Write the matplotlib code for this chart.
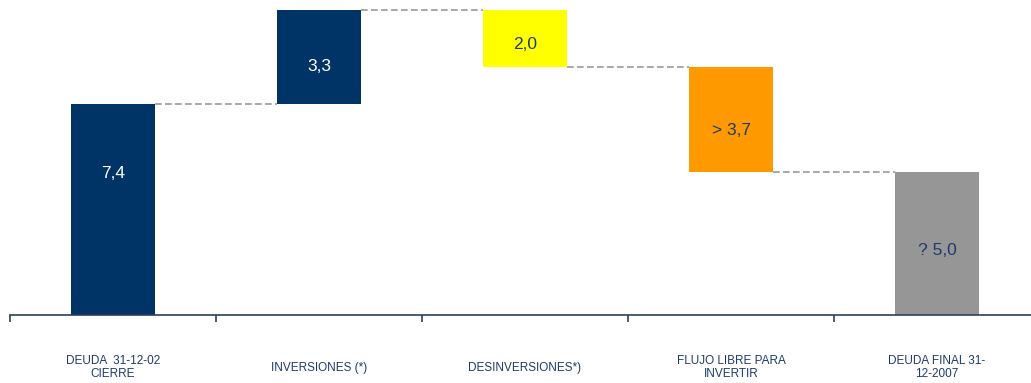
import numpy as np
import matplotlib.pyplot as plt

# data
categories = ["DEUDA  31-12-02\nCIERRE", "INVERSIONES (*)", "DESINVERSIONES*)",
              "FLUJO LIBRE PARA\nINVERTIR", "DEUDA FINAL 31-\n12-2007"]
changes = [7.4, 3.3, -2.0, -3.7, 5.0]
value_labels = ["7,4", "3,3", "2,0", "> 3,7", "? 5,0"]
colors = ["#003366", "#003366", "#FFFF00", "#FF9900", "#969696"]
text_colors = ["white", "white", "#1F3A6E", "#1F3A6E", "#1F3A6E"]
# label shift from bar centre, in points (as in the original slide)
label_shift = [26, -6.5, -4.5, -8, -5]

# waterfall bottoms / tops
bottoms, tops = [], []
level = 0.0
for i, c in enumerate(changes):
    if i == len(changes) - 1:
        b, t = 0.0, c
    else:
        b, t = min(level, level + c), max(level, level + c)
        level += c
    bottoms.append(b)
    tops.append(t)

plt.rcParams['font.family'] = ['Liberation Sans', 'DejaVu Sans']

fig = plt.figure(figsize=(10.31, 3.83), dpi=100)
ax = fig.add_axes([10 / 1031, 68 / 383, 1030 / 1031, 315 / 383])

x = np.arange(len(categories))
w = 0.41
heights = np.array(tops) - np.array(bottoms)
ax.bar(x, heights, bottom=bottoms, width=w, color=colors, zorder=2)

# connectors
lvl = 0.0
for i in range(len(changes) - 1):
    lvl += changes[i]
    ax.plot([x[i] + w / 2, x[i + 1] - w / 2], [lvl, lvl], ls=(0, (4, 2)),
            color="#999999", lw=1.2, zorder=1)

for i in range(len(categories)):
    ax.annotate(value_labels[i], (x[i], (bottoms[i] + tops[i]) / 2),
                xytext=(0, label_shift[i]), textcoords="offset points",
                ha="center", va="center", fontsize=12.5, color=text_colors[i])

ax.set_xlim(-0.5, 4.5)
ax.set_ylim(0, 11.05)
ax.set_yticks([])
for s in ["top", "left", "right"]:
    ax.spines[s].set_visible(False)
ax.spines["bottom"].set_color("#2B3F5C")
ax.spines["bottom"].set_linewidth(1.2)

ax.set_xticks(np.arange(-0.5, 4.0, 1.0), minor=True)
ax.tick_params(axis="x", which="minor", length=5, width=1.2, color="#2B3F5C")
ax.set_xticks(x)
ax.set_xticklabels(categories, fontsize=8.5, color="#1F3A6E", linespacing=1.15)
ax.tick_params(axis="x", which="major", length=0, pad=38)
for lab in ax.get_xticklabels():
    lab.set_va("center")

fig.savefig("out.png", dpi=100)
